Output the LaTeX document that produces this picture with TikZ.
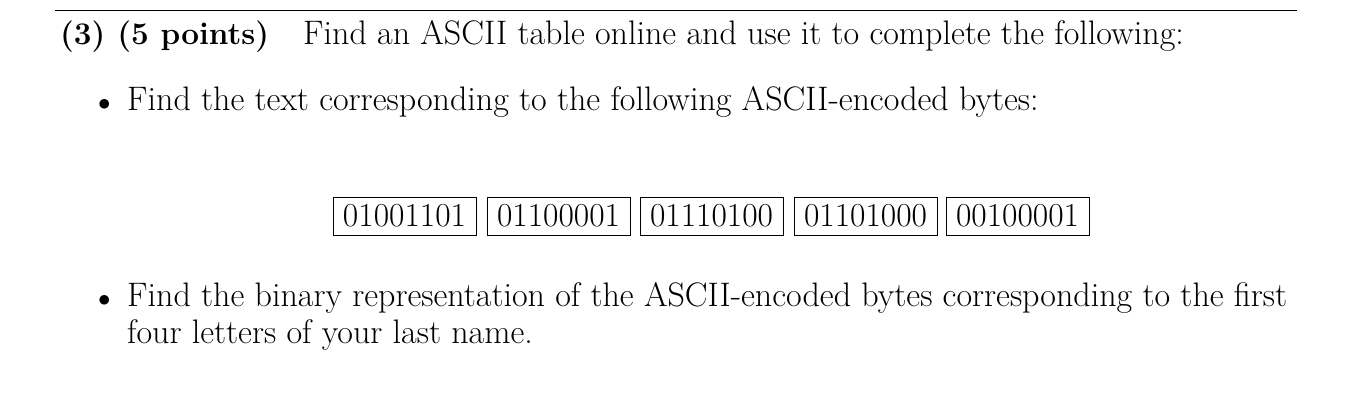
\documentclass[tikz,border=0pt]{standalone}
\begin{document}
\begin{tikzpicture}[x=1pt,y=-1pt,
  txt/.style={anchor=base west,inner sep=0pt,font=\fontsize{34}{40}\selectfont},
  byte/.style={draw,line width=0.8pt,minimum width=143pt,minimum height=38pt,inner sep=0pt,font=\fontsize{33.5}{40}\selectfont}]
\useasboundingbox (0,0) rectangle (1360,410);
\coordinate (l1) at (55,10); \coordinate (l2) at (1297,10);
\draw[line width=0.8pt] (l1) -- (l2);
\node[txt,font=\fontsize{31.5}{38}\selectfont] (h) at (60,44) {\textbf{(3) (5 points)}};
\node[txt] (t1) at (303,44) {Find an ASCII table online and use it to complete the following:};
\node[txt] (b1) at (98,110) {$\bullet$};
\node[txt] (t2) at (127,110) {Find the text corresponding to the following ASCII-encoded bytes:};
\node[byte] (y1) at (404.5,216) {01001101};
\node[byte] (y2) at (558.5,216) {01100001};
\node[byte] (y3) at (711.5,216) {01110100};
\node[byte] (y4) at (865.5,216) {01101000};
\node[byte] (y5) at (1017.5,216) {00100001};
\node[txt] (b2) at (98,306) {$\bullet$};
\node[txt] (t3) at (127,306) {Find the binary representation of the ASCII-encoded bytes corresponding to the first};
\node[txt] (t4) at (127,343) {four letters of your last name.};
\end{tikzpicture}
\end{document}
